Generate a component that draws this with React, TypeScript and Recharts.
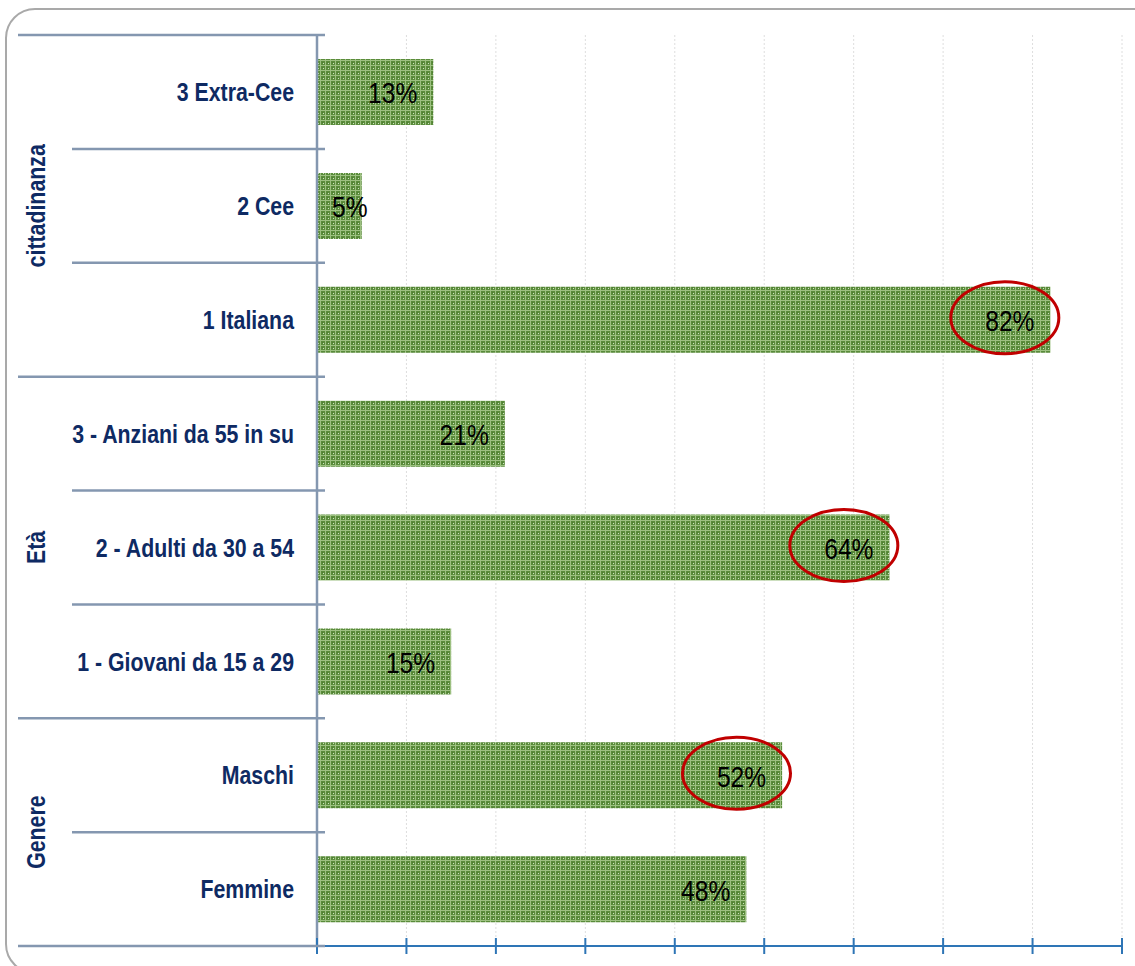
import React from "react";
import { BarChart, Bar, XAxis, YAxis, CartesianGrid, LabelList } from "recharts";

const categories = [
  "3 Extra-Cee",
  "2 Cee",
  "1 Italiana",
  "3 - Anziani da 55 in su",
  "2 - Adulti da 30 a 54",
  "1 - Giovani da 15 a 29",
  "Maschi",
  "Femmine",
];
const shares = [0.13, 0.05, 0.82, 0.21, 0.64, 0.15, 0.52, 0.48];
const groups = [
  "cittadinanza",
  "cittadinanza",
  "cittadinanza",
  "Età",
  "Età",
  "Età",
  "Genere",
  "Genere",
];
const circled = [false, false, true, false, true, false, true, false];
const xTicks = [0, 0.1, 0.2, 0.3, 0.4, 0.5, 0.6, 0.7, 0.8, 0.9];

const data = categories.map((name, i) => ({ name, share: shares[i] }));

const NAVY = "#0e2a63";
const RULE = "#8497b0";
const AXIS_BLUE = "#2e75b6";
const FONT = "'Liberation Sans', Arial, sans-serif";
// no narrow face installed, so squeeze the regular one
const SQUEEZE = 0.82;

function groupSize(name: string) {
  return groups.filter((g) => g === name).length;
}

function CategoryTick(props: any) {
  const { x, y, payload, index } = props;
  const half = payload && payload.offset ? payload.offset : (946 - 35) / 16;
  const top = y - half;
  const i = index ?? categories.indexOf(payload.value);
  const groupStart = i === 0 || groups[i] !== groups[i - 1];
  const last = i === categories.length - 1;
  const g = groups[i];
  const labelY = top + groupSize(g) * half;
  return (
    <g>
      <line x1={groupStart ? 18 : 72} x2={x + 8} y1={top} y2={top} stroke={RULE} strokeWidth={2.5} />
      {last && <line x1={18} x2={x + 8} y1={y + half} y2={y + half} stroke={RULE} strokeWidth={2.5} />}
      {groupStart && (
        <g transform={`translate(36 ${labelY}) rotate(-90) scale(${SQUEEZE} 1)`}>
          <text
            x={0}
            y={0}
            textAnchor="middle"
            dominantBaseline="central"
            fill={NAVY}
            fontFamily={FONT}
            fontWeight="bold"
            fontSize={26}
          >
            {g}
          </text>
        </g>
      )}
      <g transform={`translate(${x - 23} ${y}) scale(${SQUEEZE} 1)`}>
        <text
          x={0}
          y={0}
          textAnchor="end"
          dominantBaseline="central"
          fill={NAVY}
          fontFamily={FONT}
          fontWeight="bold"
          fontSize={26}
        >
          {payload.value}
        </text>
      </g>
    </g>
  );
}

function ValueTick(props: any) {
  const { x, y } = props;
  return <line x1={x} x2={x} y1={y - 8} y2={y + 8} stroke={AXIS_BLUE} strokeWidth={2} />;
}

function ShareLabel(props: any) {
  const { x, y, width, height, value, index } = props;
  const text = `${Math.round(value * 100)}%`;
  const fs = 30;
  const textW = text.split("").reduce((s: number, c: string) => s + (c === "%" ? 0.889 : 0.556) * fs * SQUEEZE, 0);
  const right = Math.max(x + width - 16, x + 15 + textW);
  const cy = y + height / 2;
  const cx = right - textW / 2;
  return (
    <g>
      <g transform={`translate(${right} ${cy + 1}) scale(${SQUEEZE} 1)`}>
        <text x={0} y={0} textAnchor="end" dominantBaseline="central" fill="#000" fontFamily={FONT} fontSize={fs}>
          {text}
        </text>
      </g>
      {circled[index] && (
        <ellipse cx={cx - 5} cy={cy - 2} rx={54} ry={36} fill="none" stroke="#c00000" strokeWidth={3} />
      )}
    </g>
  );
}

export default function App() {
  return (
    <div style={{ position: "absolute", left: 0, top: 0, width: 1135, height: 966, overflow: "hidden", background: "#fff" }}>
      <div
        style={{
          position: "absolute",
          left: 5,
          top: 8,
          width: 1170,
          height: 962,
          border: "2px solid #a9a9a9",
          borderRadius: 30,
        }}
      />
      <div style={{ position: "absolute", left: 0, top: 0 }}>
        <BarChart
          width={1135}
          height={966}
          data={data}
          layout="vertical"
          margin={{ top: 35, right: 13, bottom: 0, left: 0 }}
        >
          <defs>
            <pattern id="plaid" width="5" height="5" patternUnits="userSpaceOnUse">
              <rect width="5" height="5" fill="#5a8c3b" />
              <rect x="0" y="0" width="1" height="5" fill="#9cc080" />
              <rect x="0" y="0" width="5" height="1" fill="#9cc080" />
              <rect x="3" y="3" width="1" height="1" fill="#cfe2c0" />
              <rect x="2" y="2" width="1" height="1" fill="#4f7d33" />
            </pattern>
          </defs>
          <CartesianGrid horizontal={false} stroke="#dedede" strokeDasharray="2 2" />
          <XAxis
            type="number"
            domain={[0, 0.9]}
            ticks={xTicks}
            height={20}
            axisLine={{ stroke: AXIS_BLUE, strokeWidth: 2 }}
            tickLine={false}
            tickSize={0}
            tickMargin={0}
            tick={<ValueTick />}
            interval={0}
          />
          <YAxis
            type="category"
            dataKey="name"
            width={317}
            axisLine={{ stroke: RULE, strokeWidth: 2.5 }}
            tickLine={false}
            tickSize={0}
            tickMargin={0}
            tick={<CategoryTick />}
            interval={0}
          />
          <Bar dataKey="share" fill="url(#plaid)" barSize={66} isAnimationActive={false}>
            <LabelList dataKey="share" content={<ShareLabel />} />
          </Bar>
        </BarChart>
      </div>
    </div>
  );
}
